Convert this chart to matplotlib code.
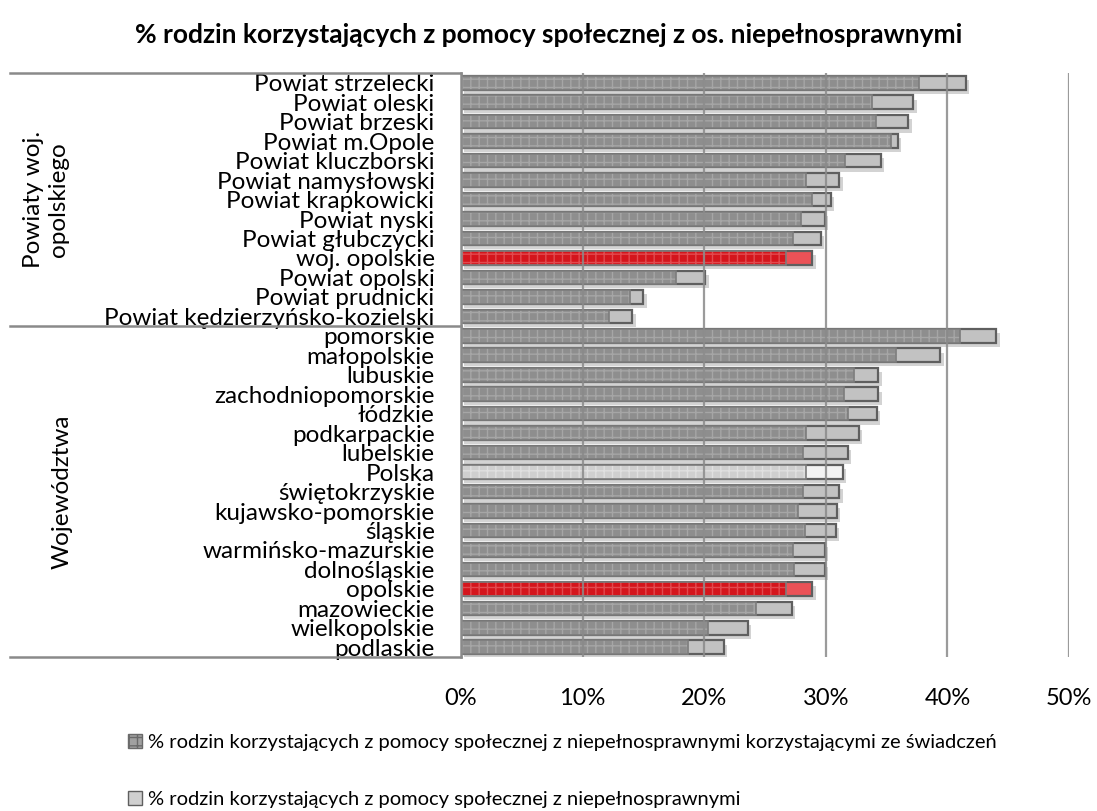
import matplotlib
matplotlib.use("Agg")
import matplotlib.pyplot as plt
import matplotlib.patheffects as pe
import matplotlib.transforms as mtransforms
from matplotlib.lines import Line2D
from matplotlib.patches import Patch
import numpy as np

plt.rcParams['font.family'] = ['Lato', 'DejaVu Sans']

title = "% rodzin korzystających z pomocy społecznej z os. niepełnosprawnymi"
categories = ["Powiat strzelecki", "Powiat oleski", "Powiat brzeski", "Powiat m.Opole",
              "Powiat kluczborski", "Powiat namysłowski", "Powiat krapkowicki", "Powiat nyski",
              "Powiat głubczycki", "woj. opolskie", "Powiat opolski", "Powiat prudnicki",
              "Powiat kędzierzyńsko-kozielski",
              "pomorskie", "małopolskie", "lubuskie", "zachodniopomorskie", "łódzkie",
              "podkarpackie", "lubelskie", "Polska", "świętokrzyskie", "kujawsko-pomorskie",
              "śląskie", "warmińsko-mazurskie", "dolnośląskie", "opolskie", "mazowieckie",
              "wielkopolskie", "podlaskie"]
with_benefits = [37.7, 33.8, 34.1, 35.4, 31.6, 28.4, 28.9, 28.0, 27.3, 26.7, 17.7, 13.9, 12.2,
                 41.0, 35.8, 32.3, 31.5, 31.8, 28.4, 28.1, 28.4, 28.1, 27.7, 28.3, 27.3, 27.4,
                 26.7, 24.3, 20.3, 18.7]
with_disabled = [41.5, 37.2, 36.8, 35.9, 34.5, 31.1, 30.4, 29.9, 29.6, 28.9, 20.1, 15.0, 14.1,
                 44.0, 39.4, 34.3, 34.3, 34.2, 32.7, 31.8, 31.4, 31.1, 30.9, 30.8, 29.9, 29.9,
                 28.9, 27.2, 23.6, 21.6]
series_names = ["% rodzin korzystających z pomocy społecznej z niepełnosprawnymi korzystającymi ze świadczeń",
                "% rodzin korzystających z pomocy społecznej z niepełnosprawnymi"]
group_names = ["Powiaty woj.\nopolskiego", "Województwa"]
group_sizes = [13, 17]
highlight_red = ["woj. opolskie", "opolskie"]
highlight_country = ["Polska"]
x_ticks = [0, 10, 20, 30, 40, 50]
x_tick_labels = ["0%", "10%", "20%", "30%", "40%", "50%"]

W, H = 1097, 811
fig = plt.figure(figsize=(W / 100, H / 100), dpi=100)
ax = fig.add_axes([461 / W, 1 - 657 / H, (1069 - 461) / W, (657 - 73) / H])

n = len(categories)
y = np.arange(n)
bh = 0.70

for i, cat in enumerate(categories):
    if cat in highlight_red:
        dark_face, dark_hatch, light_face = '#d4151c', '#e24a4f', '#eb5257'
    elif cat in highlight_country:
        dark_face, dark_hatch, light_face = '#cfcfcf', '#e0e0e0', '#f3f3f3'
    else:
        dark_face, dark_hatch, light_face = '#8e8e8e', '#a6a6a6', '#c2c2c2'
    # light (total) bar with shadow
    ax.barh(y[i], with_disabled[i], height=bh, color=light_face, edgecolor='#5f5f5f',
            linewidth=1.6, zorder=1,
            path_effects=[pe.SimplePatchShadow(offset=(2.5, -3), shadow_rgbFace='#a8a8a8', alpha=0.5),
                          pe.Normal()])
    # dark (benefits) bar with pattern
    ax.barh(y[i], with_benefits[i], height=bh, color=dark_face, edgecolor=dark_hatch,
            linewidth=0, hatch='++', zorder=1.2)
    ax.barh(y[i], with_benefits[i], height=bh, fill=False, edgecolor='#7c7c7c',
            linewidth=1.2, zorder=1.3)

ax.set_xlim(0, 50)
ax.set_ylim(n - 0.5, -0.5)
ax.set_xticks(x_ticks)
ax.set_xticklabels(x_tick_labels, fontsize=17)
ax.set_yticks(y)
ax.set_yticklabels(categories, fontsize=17.5)
ax.tick_params(axis='both', length=0)
ax.tick_params(axis='y', pad=19)
ax.tick_params(axis='x', pad=22)
ax.xaxis.grid(True, color='#8a8a8a', linewidth=1.6, alpha=0.85)
ax.set_axisbelow(False)
for s in ['top', 'right', 'bottom']:
    ax.spines[s].set_visible(False)
ax.spines['left'].set_color('#8a8a8a')
ax.spines['left'].set_linewidth(1.8)

# group separators on the left
trans = mtransforms.blended_transform_factory(fig.transFigure, ax.transData)
bounds = [-0.5]
for g in group_sizes:
    bounds.append(bounds[-1] + g)
for b in bounds:
    fig.add_artist(Line2D([10 / W, 461 / W], [b, b], transform=trans, color='#8a8a8a',
                          linewidth=1.8))
gx = [46 / W, 62 / W]
for k, name in enumerate(group_names):
    mid = (bounds[k] + bounds[k + 1]) / 2
    fig.text(gx[k], mid, name, transform=trans, rotation=90, ha='center', va='center',
             fontsize=17.5, linespacing=1.2)

fig.suptitle(title, x=549 / W, y=1 - 35 / H, va='center', fontsize=19, fontweight='bold')

handles = [Patch(facecolor='#a0a0a0', edgecolor='#6a6a6a', hatch='++'),
           Patch(facecolor='#d0d0d0', edgecolor='#5f5f5f')]
fig.legend(handles, series_names, loc='upper left', bbox_to_anchor=(128 / W, 1 - 734 / H),
           frameon=False, fontsize=14.5, handlelength=0.7, handleheight=0.7,
           handletextpad=0.3, labelspacing=2.0, borderaxespad=0, borderpad=0)

fig.savefig("out.png", dpi=100)
